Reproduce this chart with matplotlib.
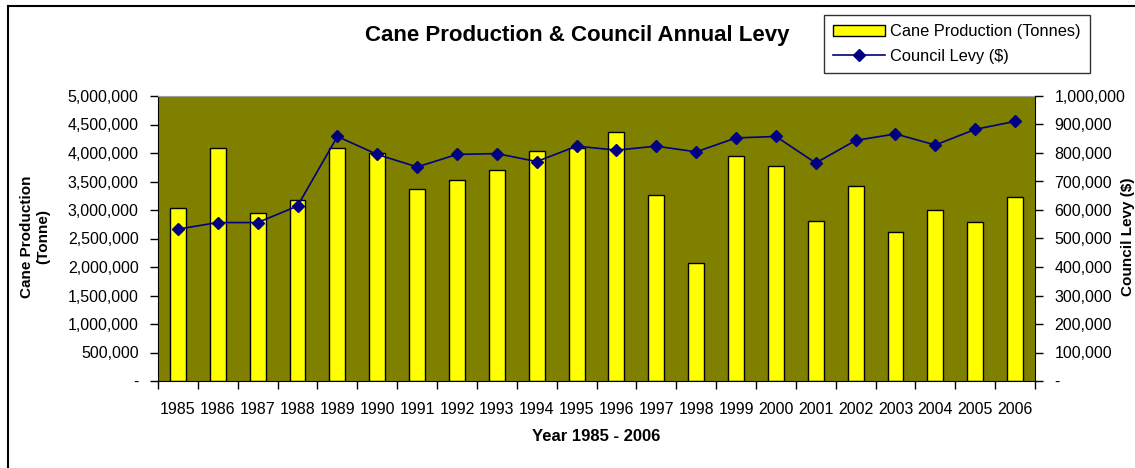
import matplotlib
matplotlib.use('Agg')
import matplotlib.pyplot as plt
from matplotlib.lines import Line2D
from matplotlib.ticker import FuncFormatter
import numpy as np

plt.rcParams['font.family'] = ['Liberation Sans', 'DejaVu Sans']

years = ['1985', '1986', '1987', '1988', '1989', '1990', '1991', '1992', '1993', '1994', '1995',
         '1996', '1997', '1998', '1999', '2000', '2001', '2002', '2003', '2004', '2005', '2006']
cane_tonnes = [3027000, 4095000, 2950000, 3167000, 4095000, 4000000, 3365000, 3530000, 3700000,
               4036000, 4095000, 4360000, 3270000, 2070000, 3950000, 3780000, 2810000, 3420000,
               2620000, 3000000, 2790000, 3220000]
council_levy = [533000, 556000, 556000, 614000, 858000, 795000, 751000, 795000, 798000, 770000,
                824000, 810000, 824000, 804000, 853000, 858000, 765000, 844000, 867000, 828000,
                883000, 911000]


def fmt(v, pos):
    if v == 0:
        return '-'
    return '{:,.0f}'.format(v)


fig = plt.figure(figsize=(11.35, 4.68), dpi=100)
ax = fig.add_axes([158 / 1135, 87 / 468, 877 / 1135, 285 / 468])
ax.set_facecolor('#808000')

x = np.arange(len(years))
bars = ax.bar(x, cane_tonnes, width=0.4, color='#ffff00', edgecolor='black', linewidth=1,
              label='Cane Production (Tonnes)', zorder=2)
ax.set_xlim(-0.5, len(years) - 0.5)
ax.set_ylim(0, 5000000)
ax.set_yticks(np.arange(0, 5000001, 500000))
ax.yaxis.set_major_formatter(FuncFormatter(fmt))
ax.set_xticks(x)
ax.set_xticklabels(years)
ax.tick_params(axis='x', length=0, pad=15, labelsize=11.5)
ax.set_xticks(np.arange(-0.5, len(years), 1), minor=True)
ax.tick_params(axis='x', which='minor', length=6, width=1, direction='out')
ax.tick_params(axis='y', length=6, width=1, direction='out', labelsize=11.5, pad=8)
ax.spines['top'].set_color('#a0a0a0')
ax.spines['right'].set_visible(False)

ax2 = ax.twinx()
ax2.plot(x, council_levy, color='#000080', marker='D', markersize=6, linewidth=1.2,
         label='Council Levy ($)', zorder=3)
ax2.set_ylim(0, 1000000)
ax2.set_yticks(np.arange(0, 1000001, 100000))
ax2.yaxis.set_major_formatter(FuncFormatter(fmt))
ax2.tick_params(axis='y', length=6, width=1, direction='out', labelsize=11.5, pad=8)
for s in ['top', 'left', 'bottom']:
    ax2.spines[s].set_visible(False)

ax.set_xlabel('Year 1985 - 2006', fontsize=12, fontweight='bold', labelpad=9)
fig.text(0.031, 0.494, 'Cane Production\n(Tonne)', rotation=90, ha='center', va='center',
         fontsize=11, fontweight='bold')
fig.text(1128 / 1135, 0.494, 'Council Levy ($)', rotation=90, ha='center', va='center',
         fontsize=11, fontweight='bold')

fig.text(577 / 1135, 1 - 35 / 468, 'Cane Production & Council Annual Levy', ha='center',
         va='center', fontsize=16, fontweight='bold')

handles = [bars, ax2.get_lines()[0]]
leg = fig.legend(handles, [h.get_label() for h in handles], loc='upper left',
                 bbox_to_anchor=(824 / 1135, 1 - 15 / 468), frameon=True, fancybox=False,
                 fontsize=11.8, borderpad=0.55, handlelength=3.2, labelspacing=0.6,
                 handletextpad=0.3, borderaxespad=0)
leg.get_frame().set_edgecolor('black')
leg.get_frame().set_linewidth(1)

# outer chart border
fig.add_artist(Line2D([7.5 / 1135, 1], [1 - 6 / 468, 1 - 6 / 468], color='black', linewidth=1.5,
                      transform=fig.transFigure))
fig.add_artist(Line2D([7.5 / 1135, 7.5 / 1135], [0, 1 - 6 / 468], color='black', linewidth=1.5,
                      transform=fig.transFigure))

fig.savefig('out.png', dpi=100)
